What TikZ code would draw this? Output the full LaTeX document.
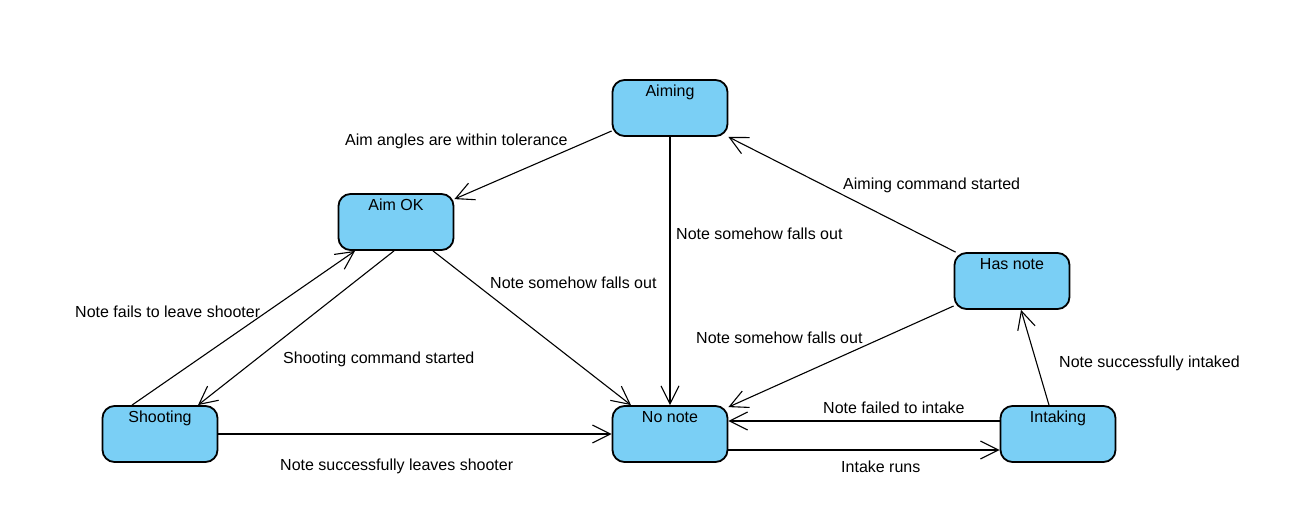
\documentclass[tikz,border=0pt]{standalone}
\usepackage{fontspec}
\setmainfont{Liberation Sans}
\usepackage{xcolor}
\usepackage{tikz}
\usetikzlibrary{arrows.meta, positioning}
\definecolor{statefill}{RGB}{122,207,245}

\begin{document}
\begin{tikzpicture}[x=1pt, y=-1pt,
    every node/.style={font=\fontsize{16}{19}\selectfont},
    state/.style={draw, line width=1.8pt, rounded corners=12pt, fill=statefill,
        minimum width=115pt, inner xsep=0pt, inner ysep=0pt,
        text height=16.5pt, text depth=39.5pt},
    trans/.style={-{Straight Barb[length=18pt,width=18pt]}, line width=1.1pt},
    txt/.style={anchor=base west, inner sep=0pt}]

        % Canvas
        \path[fill=white] (0,0) rectangle (1304,505);

        % States
        \node[state] (aiming) at (670,108) {Aiming};
        \node[state] (aimok) at (396,222) {Aim OK};
        \node[state] (shooting) at (160,434) {Shooting};
        \node[state] (nonote) at (670,434) {No note};
        \node[state] (intaking) at (1058,434) {Intaking};
        \node[state] (hasnote) at (1012,281) {Has note};

        % Transitions out of Aiming
        \draw[trans] ([yshift=-23pt]aiming.west) -- ([yshift=-6pt]aimok.north east);
        \node[txt] (aimtol) at (345,146) {Aim angles are within tolerance};
        \draw[trans] (aiming.south) -- (nonote.north);
        \node[txt] (fallsa) at (676,240) {Note somehow falls out};

        % Transitions out of Has note
        \draw[trans] ([xshift=2pt]hasnote.north west) -- (aiming.south east);
        \node[txt] (aimcmd) at (843,190) {Aiming command started};
        \draw[trans] ([yshift=-25pt]hasnote.west) -- ([yshift=-2pt]nonote.north east);
        \node[txt] (fallsh) at (696,343) {Note somehow falls out};

        % Intake loop
        \draw[trans] ([xshift=-9pt]intaking.north) -- ([xshift=9pt]hasnote.south);
        \node[txt] (intaked) at (1059,367) {Note successfully intaked};
        \draw[trans] ([yshift=13pt]intaking.west) -- ([yshift=13pt]nonote.east);
        \node[txt] (failed) at (823,413) {Note failed to intake};
        \draw[trans] ([yshift=-16pt]nonote.east) -- ([yshift=-16pt]intaking.west);
        \node[txt] (runs) at (841,472) {Intake runs};

        % Shooting loop
        \draw[trans] (shooting.east) -- (nonote.west);
        \node[txt] (leaves) at (280,470) {Note successfully leaves shooter};
        \draw[trans] ([xshift=-28pt]shooting.north) -- ([xshift=-41pt]aimok.south);
        \node[txt] (fails) at (75,317) {Note fails to leave shooter};
        \draw[trans] ([xshift=-2pt]aimok.south) -- ([xshift=38pt]shooting.north);
        \node[txt] (shootcmd) at (283,363) {Shooting command started};
        \draw[trans] ([xshift=37pt]aimok.south) -- ([xshift=-39pt]nonote.north);
        \node[txt] (fallso) at (490,288) {Note somehow falls out};

    \end{tikzpicture}
\end{document}
